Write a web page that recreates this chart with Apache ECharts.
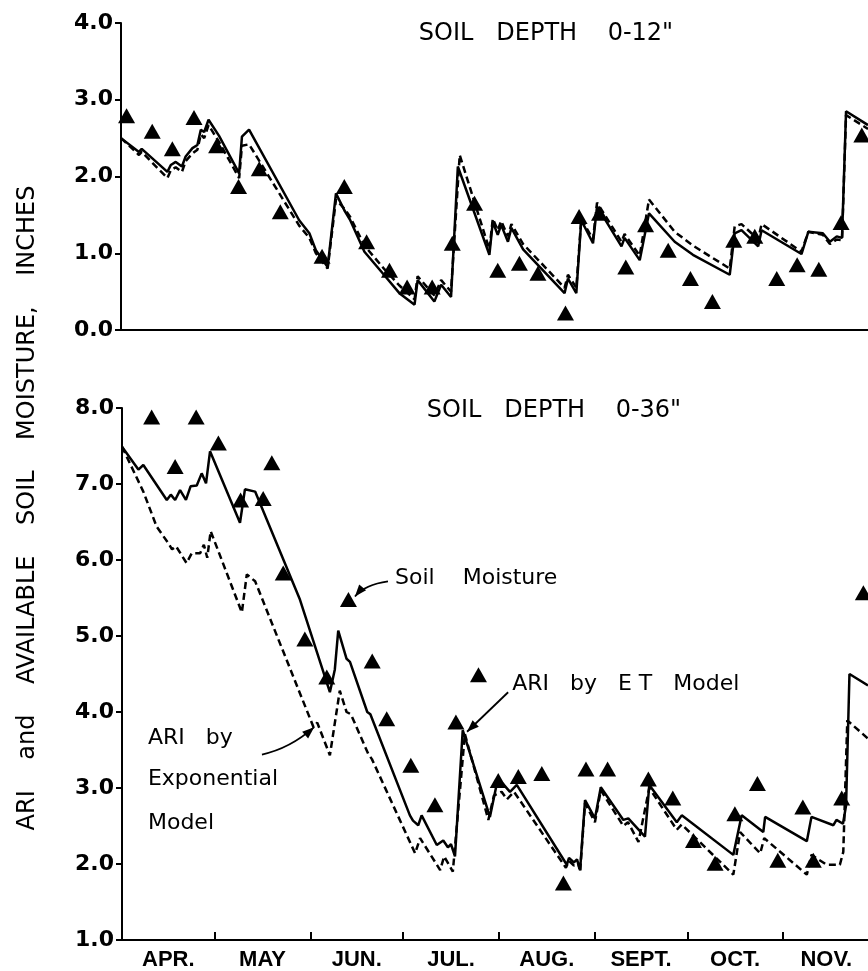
<!DOCTYPE html>
<html><head><meta charset="utf-8">
<script src="https://cdn.jsdelivr.net/npm/echarts@6/dist/echarts.min.js"></script>
<style>html,body{margin:0;padding:0;background:#fff}#c{width:868px;height:971px}</style>
</head><body><div id="c"></div>
<script>
// x = days since April 1
const monthLabels = ['APR.','MAY','JUN.','JUL.','AUG.','SEPT.','OCT.','NOV.'];
const monthStarts = [30,61,91,122,153,183,214];
const monthMids = [15,45.5,76,106.5,137.5,168,198.5,228];

// Soil depth 0-12"
const topET = [[0,2.50],[5.8,2.32],[6.7,2.36],[15.0,2.06],[16.1,2.15],[17.7,2.19],[19.7,2.13],[20.9,2.26],[23.1,2.37],[24.7,2.41],[25.8,2.61],[26.9,2.58],[28.3,2.74],[31.7,2.53],[38.2,2.04],[39.1,2.52],[41.4,2.61],[57.6,1.43],[60.9,1.26],[63.0,1.04],[66.8,0.82],[69.5,1.78],[72.2,1.56],[74.0,1.44],[78.7,1.02],[85.0,0.72],[90.0,0.48],[94.9,0.33],[95.9,0.65],[101.3,0.37],[103.5,0.59],[106.7,0.43],[108.9,2.13],[119.1,0.98],[120.2,1.41],[121.8,1.24],[122.9,1.37],[125.1,1.15],[126.2,1.33],[130.0,1.05],[143.4,0.48],[144.5,0.67],[147.2,0.48],[148.8,1.43],[152.6,1.13],[153.9,1.61],[161.8,1.09],[162.8,1.20],[167.7,0.91],[170.7,1.52],[179.0,1.15],[184.9,0.98],[196.8,0.72],[198.4,1.26],[200.6,1.30],[206.0,1.09],[207.1,1.30],[220.0,0.99],[222.2,1.28],[226.9,1.26],[229.2,1.15],[231.4,1.22],[233.1,1.20],[234.4,2.85],[241.5,2.67]];
const topExp = [[0,2.50],[5.8,2.28],[6.7,2.32],[15.0,1.98],[16.1,2.08],[17.7,2.12],[19.7,2.06],[20.9,2.20],[23.1,2.30],[24.7,2.35],[25.8,2.55],[26.9,2.50],[28.3,2.67],[31.7,2.45],[38.2,1.98],[39.1,2.40],[41.4,2.42],[57.6,1.36],[60.9,1.20],[63.0,1.00],[66.8,0.80],[69.5,1.70],[72.2,1.58],[74.0,1.48],[78.7,1.10],[85.0,0.80],[90.0,0.58],[94.9,0.40],[95.9,0.70],[101.3,0.45],[103.5,0.65],[106.7,0.50],[109.5,2.28],[119.1,1.05],[120.2,1.45],[121.8,1.30],[122.9,1.42],[125.1,1.22],[126.2,1.38],[130.0,1.12],[143.4,0.55],[144.5,0.72],[147.2,0.55],[148.8,1.45],[152.6,1.18],[153.9,1.66],[161.8,1.15],[162.8,1.25],[167.7,0.97],[170.7,1.70],[179.0,1.28],[184.9,1.10],[196.8,0.80],[198.4,1.35],[200.6,1.38],[206.0,1.18],[207.1,1.38],[220.0,1.02],[222.2,1.28],[226.9,1.24],[229.2,1.12],[231.4,1.18],[233.1,1.17],[234.4,2.80],[241.5,2.62]];
const topObs = [[1.8,2.79],[10.1,2.59],[16.6,2.36],[23.6,2.77],[30.9,2.40],[38.0,1.87],[44.7,2.10],[51.5,1.54],[65.0,0.96],[72.2,1.87],[79.4,1.15],[86.8,0.78],[92.5,0.56],[100.6,0.56],[107.1,1.13],[114.3,1.65],[121.8,0.78],[128.8,0.87],[134.8,0.74],[143.7,0.22],[148.1,1.48],[154.7,1.52],[163.2,0.82],[169.6,1.37],[176.9,1.04],[184.1,0.67],[191.2,0.37],[198.1,1.17],[204.9,1.22],[212.0,0.67],[218.6,0.85],[225.6,0.79],[232.8,1.40],[239.5,2.54]];

// Soil depth 0-36"
const botET = [[0,7.49],[5.3,7.19],[6.9,7.25],[14.5,6.79],[15.8,6.86],[17.2,6.79],[18.8,6.92],[20.7,6.79],[22.2,6.97],[24.2,6.98],[25.8,7.14],[27.2,7.01],[28.5,7.43],[38.2,6.49],[39.8,6.93],[43.1,6.90],[57.6,5.48],[67.3,4.26],[68.9,4.56],[70.0,5.07],[72.7,4.70],[73.8,4.66],[79.4,4.00],[80.4,3.97],[93.2,2.64],[94.2,2.57],[95.9,2.51],[97.0,2.64],[101.9,2.25],[104.0,2.31],[105.5,2.22],[106.5,2.26],[107.8,2.10],[110.3,3.76],[119.1,2.62],[121.1,3.01],[123.2,3.06],[125.6,2.95],[127.8,3.04],[144.0,1.99],[144.7,2.08],[146.3,2.02],[147.3,2.06],[148.3,1.92],[149.9,2.84],[153.1,2.60],[155.0,3.01],[162.3,2.58],[163.9,2.60],[169.3,2.36],[170.7,3.04],[179.6,2.55],[181.2,2.64],[197.9,2.12],[200.6,2.64],[207.6,2.42],[208.2,2.62],[221.7,2.30],[223.2,2.62],[230.3,2.51],[231.3,2.58],[233.4,2.53],[234.4,2.77],[235.5,4.50],[241.5,4.35]];
const botExp = [[0,7.49],[6.9,6.90],[11.2,6.44],[15.0,6.22],[16.2,6.14],[17.5,6.18],[20.9,5.96],[22.6,6.09],[25.3,6.09],[26.5,6.20],[27.6,6.03],[28.7,6.38],[38.8,5.31],[40.4,5.81],[43.1,5.72],[62.0,3.80],[63.2,3.86],[67.3,3.43],[70.5,4.28],[72.7,4.00],[74.1,3.97],[79.7,3.45],[80.9,3.38],[94.9,2.14],[96.5,2.34],[103.0,1.92],[104.3,2.10],[107.1,1.90],[111.0,3.71],[118.6,2.58],[120.4,2.90],[122.9,2.95],[124.6,2.85],[126.9,2.95],[143.7,1.95],[144.7,2.04],[146.3,1.98],[147.6,2.02],[148.3,1.90],[149.9,2.80],[153.1,2.55],[155.0,2.97],[162.3,2.50],[163.8,2.55],[167.2,2.29],[170.7,3.00],[179.6,2.45],[181.2,2.52],[197.9,1.86],[200.1,2.42],[206.6,2.14],[207.9,2.34],[221.7,1.86],[223.2,2.12],[228.1,1.99],[232.4,1.99],[233.5,2.16],[234.8,3.89],[241.5,3.65]];
const botObs = [[9.6,7.88],[17.2,7.23],[24.0,7.88],[31.2,7.54],[38.4,6.79],[45.7,6.81],[48.5,7.28],[52.2,5.83],[59.2,4.96],[66.3,4.46],[73.3,5.48],[81.0,4.67],[85.7,3.91],[93.5,3.30],[101.3,2.78],[108.1,3.87],[115.4,4.49],[121.8,3.10],[128.3,3.15],[135.9,3.19],[142.9,1.75],[150.2,3.25],[157.2,3.25],[170.4,3.12],[178.3,2.87],[185.0,2.31],[192.0,2.01],[198.4,2.66],[205.7,3.06],[212.3,2.05],[220.4,2.75],[223.8,2.05],[233.0,2.87],[240.0,5.57]];

const chart = echarts.init(document.getElementById('c'), null, {renderer:'canvas'});
const black = '#000';
const yLabel = {color:black, fontFamily:'DejaVu Sans', fontWeight:'bold', fontSize:22, margin:8, formatter:v=>v.toFixed(1)};
const lineBase = {type:'line', showSymbol:false, symbol:'none', z:2};
const LW = 2.5;
const tri = {symbol:'triangle', symbolSize:[17,15], itemStyle:{color:black, opacity:1}, z:3};
chart.setOption({
  animation:false,
  backgroundColor:'#fff',
  grid:[
    {left:121, right:0, top:23, height:307},
    {left:122, right:0, top:408, height:534}
  ],
  xAxis:[
    {gridIndex:0, type:'value', min:0, max:241.5, axisLine:{lineStyle:{color:black,width:2}}, axisTick:{show:false}, axisLabel:{show:false}, splitLine:{show:false}},
    {gridIndex:1, type:'value', min:0, max:241.5, axisLine:{lineStyle:{color:black,width:2}},
     axisTick:{show:true, inside:true, length:8, lineStyle:{color:black,width:2}, customValues:monthStarts},
     axisLabel:{color:black, fontFamily:'Liberation Sans', fontWeight:'bold', fontSize:22, margin:9, customValues:monthMids,
       formatter:v=>{const i=monthMids.indexOf(v); return i>=0?monthLabels[i]:'';}},
     splitLine:{show:false}}
  ],
  yAxis:[
    {gridIndex:0, type:'value', min:0, max:4, interval:1, axisLine:{show:true,lineStyle:{color:black,width:2}}, axisTick:{show:true,length:6,lineStyle:{color:black,width:2}}, axisLabel:yLabel, splitLine:{show:false}},
    {gridIndex:1, type:'value', min:1, max:8, interval:1, axisLine:{show:true,lineStyle:{color:black,width:2}}, axisTick:{show:true,length:6,lineStyle:{color:black,width:2}}, axisLabel:yLabel, splitLine:{show:false}}
  ],
  series:[
    Object.assign({}, lineBase, {name:'ARI by ET Model 12', xAxisIndex:0, yAxisIndex:0, data:topET, lineStyle:{color:black,width:LW}}),
    Object.assign({}, lineBase, {name:'ARI by Exponential Model 12', xAxisIndex:0, yAxisIndex:0, data:topExp, lineStyle:{color:black,width:LW,type:[7,4]}}),
    Object.assign({type:'scatter', name:'Soil Moisture 12', xAxisIndex:0, yAxisIndex:0, data:topObs}, tri),
    Object.assign({}, lineBase, {name:'ARI by ET Model 36', xAxisIndex:1, yAxisIndex:1, data:botET, lineStyle:{color:black,width:LW}}),
    Object.assign({}, lineBase, {name:'ARI by Exponential Model 36', xAxisIndex:1, yAxisIndex:1, data:botExp, lineStyle:{color:black,width:LW,type:[7,4]}}),
    Object.assign({type:'scatter', name:'Soil Moisture 36', xAxisIndex:1, yAxisIndex:1, data:botObs}, tri)
  ]
});

// annotations (data coordinates of the lower panel)
const P = (d,v) => chart.convertToPixel({gridIndex:1}, [d,v]);
function head(tip, from, len, wid){
  const dx=tip[0]-from[0], dy=tip[1]-from[1], L=Math.hypot(dx,dy)||1;
  const ux=dx/L, uy=dy/L, bx=tip[0]-ux*len, by=tip[1]-uy*len;
  return {type:'polygon', shape:{points:[tip,[bx-uy*wid,by+ux*wid],[bx+uy*wid,by-ux*wid]]}, style:{fill:black}, z:10};
}
function curve(a,c,b){
  return [{type:'bezierCurve', shape:{x1:a[0],y1:a[1],cpx1:c[0],cpy1:c[1],x2:b[0],y2:b[1]}, style:{stroke:black,lineWidth:1.8,fill:null}, z:10}, head(b,c,12,4.5)];
}
function txt(p, s, align){
  return {type:'text', x:p[0], y:p[1], style:{text:s, fill:black, fontFamily:'DejaVu Sans', fontSize:22, align:align||'left', verticalAlign:'middle'}, z:10};
}
const g = [];
g.push({type:'text', x:546, y:34, style:{text:'SOIL   DEPTH    0-12"', fill:black, fontFamily:'DejaVu Sans', fontSize:24, align:'center', verticalAlign:'middle'}});
g.push({type:'text', x:554, y:411, style:{text:'SOIL   DEPTH    0-36"', fill:black, fontFamily:'DejaVu Sans', fontSize:24, align:'center', verticalAlign:'middle'}});
g.push({type:'text', x:28, y:508, rotation:Math.PI/2, style:{text:'ARI    and    AVAILABLE    SOIL    MOISTURE,    INCHES', fill:black, fontFamily:'DejaVu Sans', fontSize:24, align:'center', verticalAlign:'middle'}});
g.push(txt(P(88.4,5.76), 'Soil    Moisture'));
g.push(...curve(P(86.1,5.72), P(78.7,5.68), P(75.4,5.52)));
g.push(txt(P(126.3,4.36), 'ARI   by   E T   Model'));
{ const a=P(125.0,4.26), b=P(111.7,3.74);
  g.push({type:'line', shape:{x1:a[0],y1:a[1],x2:b[0],y2:b[1]}, style:{stroke:black,lineWidth:1.8}, z:10});
  g.push(head(b,a,12,4.5)); }
g.push(txt(P(8.4,3.65), 'ARI   by'));
g.push(txt(P(8.4,3.12), 'Exponential'));
g.push(txt(P(8.4,2.53), 'Model'));
g.push(...curve(P(45.3,3.44), P(54.4,3.52), P(62.2,3.80)));
chart.setOption({graphic:{elements:g}});
</script></body></html>
